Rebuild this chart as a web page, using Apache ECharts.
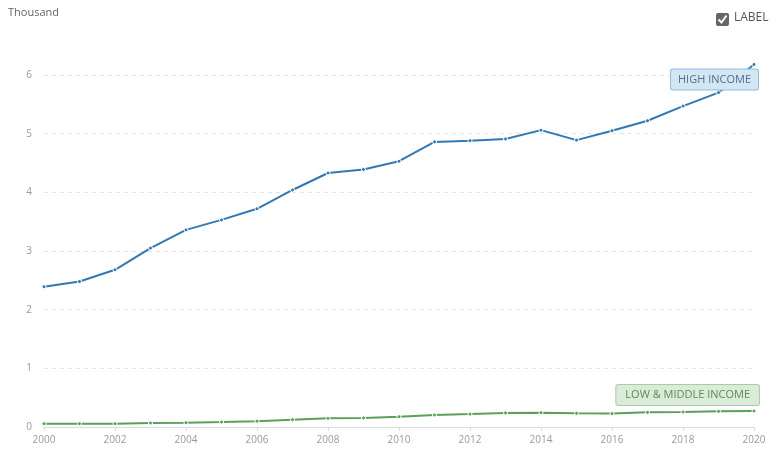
<!DOCTYPE html>
<html lang="en">
	<head>
		<meta charset="UTF-8">
		<title>income chart</title>
		<style>
			html, body { margin: 0; padding: 0; background: #fff; }
		</style>
	</head>
	<body>
		<div id="chart" style="width:781px; height:468px"></div>
		<script src="https://cdn.jsdelivr.net/npm/echarts@6/dist/echarts.min.js"></script>
		<script>
			// data (thousand)
			var years = ['2000', '2001', '2002', '2003', '2004', '2005', '2006', '2007', '2008', '2009', '2010',
				'2011', '2012', '2013', '2014', '2015', '2016', '2017', '2018', '2019', '2020'];
			var highIncome = [2.39, 2.48, 2.68, 3.05, 3.36, 3.53, 3.72, 4.04, 4.33, 4.39, 4.53,
				4.86, 4.88, 4.91, 5.06, 4.89, 5.05, 5.22, 5.47, 5.70, 6.18];
			var lowMiddleIncome = [0.057, 0.057, 0.057, 0.068, 0.074, 0.085, 0.10, 0.125, 0.148, 0.154, 0.176,
				0.205, 0.22, 0.24, 0.245, 0.233, 0.228, 0.25, 0.256, 0.267, 0.273];
			var yTicks = [0, 1, 2, 3, 4, 5, 6];

			var font = '"Open Sans", "Noto Sans", sans-serif';
			var chart = echarts.init(document.getElementById('chart'));

			function lineSeries(name, data, color, label) {
				return {
					name: name,
					type: 'line',
					data: data,
					clip: false,
					symbol: 'circle',
					symbolSize: 4,
					lineStyle: { color: color.line, width: 2 },
					itemStyle: { color: color.line, borderColor: '#fff', borderWidth: 1 },
					emphasis: { disabled: true },
					endLabel: {
						show: true,
						formatter: name,
						align: 'right',
						verticalAlign: 'middle',
						distance: 0,
						offset: label.offset,
						fontFamily: font,
						fontSize: 11,
						color: color.text,
						backgroundColor: color.fill,
						borderColor: color.border,
						borderWidth: 1,
						borderRadius: 2,
						padding: [5, label.pad, 4, label.pad]
					}
				};
			}

			var option = {
				animation: false,
				grid: { left: 44, right: 27, top: 75, bottom: 41 },
				xAxis: {
					type: 'category',
					data: years,
					boundaryGap: false,
					axisLine: { lineStyle: { color: '#d8dde2' } },
					axisTick: { interval: 1, length: 4, lineStyle: { color: '#d8dde2' } },
					axisLabel: { interval: 1, color: '#999', fontSize: 10, fontFamily: font, margin: 8 }
				},
				yAxis: {
					type: 'value',
					min: yTicks[0],
					max: yTicks[yTicks.length - 1],
					interval: 1,
					axisLine: { show: false },
					axisTick: { show: false },
					axisLabel: { color: '#999', fontSize: 10, fontFamily: font, margin: 12 },
					splitLine: { lineStyle: { color: '#e4e4e4', type: [4, 4] } }
				},
				graphic: [
					{ type: 'text', left: 8, top: 7, style: { text: 'Thousand', fill: '#666', font: '11px ' + font } },
					{ type: 'rect', shape: { x: 716, y: 13, width: 13, height: 13, r: 2 }, style: { fill: '#666' } },
					{ type: 'polyline', shape: { points: [[718.5, 19.5], [721.5, 22.5], [726.5, 15.5]] },
						style: { stroke: '#fff', lineWidth: 2, fill: null } },
					{ type: 'text', left: 734, top: 12, style: { text: 'LABEL', fill: '#555', font: '12px ' + font } }
				],
				series: [
					lineSeries('HIGH INCOME', highIncome,
						{ line: '#3079b5', text: '#4d6f94', fill: '#d5e6f3', border: '#8fbde0' },
						{ offset: [4, 15], pad: 7 }),
					lineSeries('LOW & MIDDLE INCOME', lowMiddleIncome,
						{ line: '#5b9f58', text: '#5a8a55', fill: '#dcebd9', border: '#a8cfa3' },
						{ offset: [5, -16], pad: 9 })
				]
			};
			chart.setOption(option);
		</script>
	</body>
</html>
